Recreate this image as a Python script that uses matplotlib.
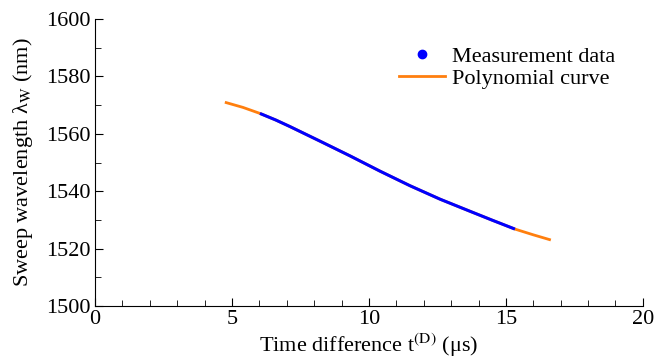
import matplotlib
matplotlib.use('Agg')
import matplotlib.pyplot as plt
from matplotlib.lines import Line2D
from matplotlib.ticker import MultipleLocator

plt.rcParams['font.family'] = ['Liberation Serif', 'DejaVu Serif']
plt.rcParams['mathtext.fontset'] = 'stix'

t_meas = [6.02, 6.6, 7.12, 8.2, 9.31, 10.4, 11.5, 12.6, 13.69, 14.5, 15.33]
lam_meas = [1567.1, 1564.8, 1562.5, 1557.5, 1552.3, 1547.0, 1541.9, 1537.2, 1533.0, 1529.9, 1526.8]

# polynomial curve, extends past the measured range on both sides
t_poly = [4.74, 5.4, 6.02, 6.6, 7.12, 8.2, 9.31, 10.4, 11.5, 12.6, 13.69, 14.5, 15.33, 16.0, 16.64]
lam_poly = [1571.0, 1569.2, 1567.1, 1564.8, 1562.5, 1557.5, 1552.3, 1547.0, 1541.9, 1537.2,
            1533.0, 1529.9, 1526.8, 1524.8, 1523.0]

fig = plt.figure(figsize=(6.54, 3.62), dpi=100)
ax = fig.add_axes([0.1453, 0.1547, 0.8377, 0.7928])

ax.plot(t_poly, lam_poly, color='#ff7f0e', lw=2.0, solid_capstyle='butt')
ax.plot(t_meas, lam_meas, color='#0000ff', lw=2.2, solid_capstyle='butt')

ax.set_xlim(0, 20)
ax.set_ylim(1500, 1600)
ax.xaxis.set_major_locator(MultipleLocator(5))
ax.xaxis.set_minor_locator(MultipleLocator(1))
ax.yaxis.set_major_locator(MultipleLocator(20))
ax.yaxis.set_minor_locator(MultipleLocator(10))
ax.tick_params(which='both', direction='in', labelsize=16)
ax.tick_params(axis='x', pad=3)
ax.tick_params(axis='y', pad=3)
ax.tick_params(which='major', length=6)
ax.tick_params(which='minor', length=4)
ax.spines['top'].set_visible(False)
ax.spines['right'].set_visible(False)

ax.set_xlabel('Time difference t$^{\\rm (D)}$ (μs)', fontsize=16, labelpad=2)
ax.set_ylabel('Sweep wavelength λ$_{\\rm W}$ (nm)', fontsize=16, labelpad=8)

handles = [Line2D([], [], color='#0000ff', marker='o', ls='none', markersize=6),
           Line2D([], [], color='#ff7f0e', lw=2.0)]
ax.legend(handles, ['Measurement data', 'Polynomial curve'], frameon=False, fontsize=16,
          loc='upper right', bbox_to_anchor=(0.966, 0.935), handlelength=2.1,
          handletextpad=0.3, labelspacing=0.05, borderaxespad=0)

fig.savefig('out.png', dpi=100)
